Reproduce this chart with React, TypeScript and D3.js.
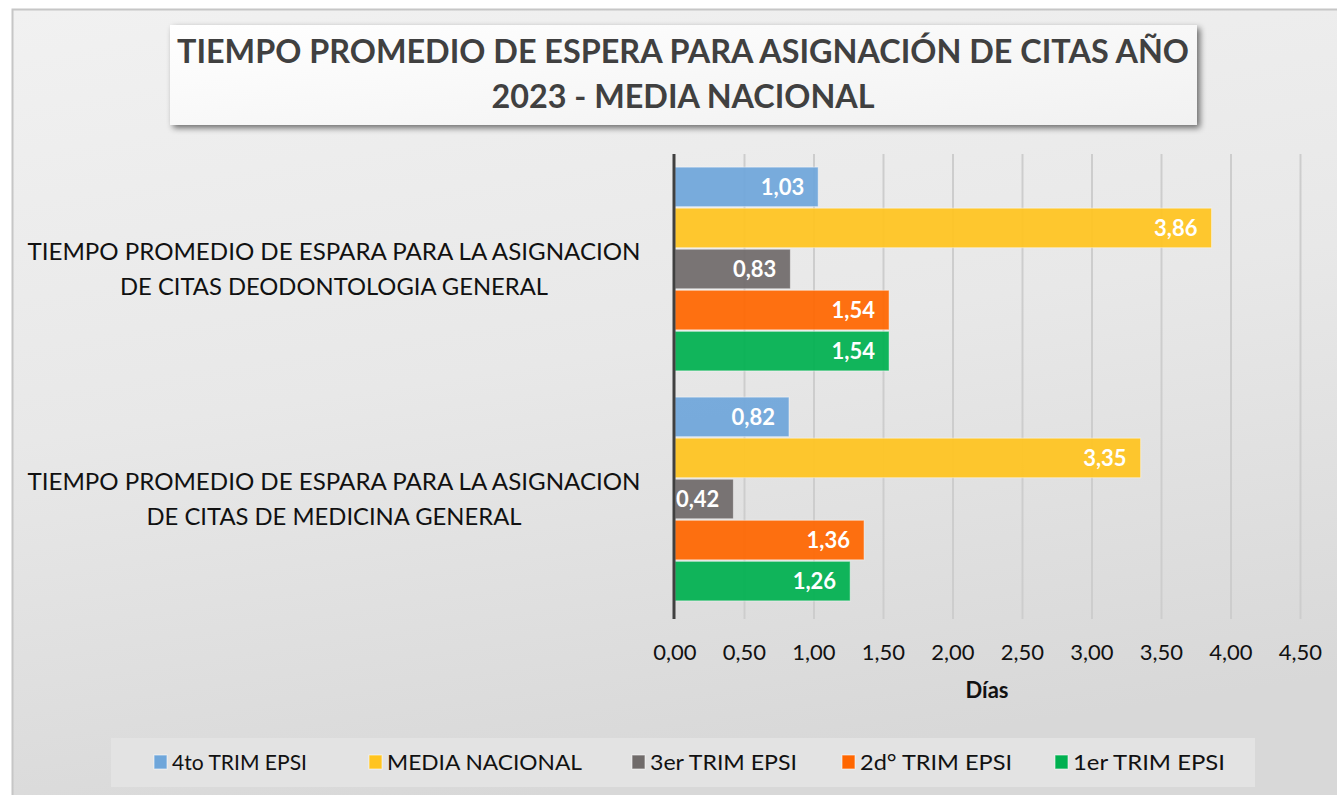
import React from "react";
import * as d3 from "d3";

const categories = ["ODONTOLOGIA", "MEDICINA"];
const categoryLines = [
  ["TIEMPO PROMEDIO DE ESPARA PARA LA ASIGNACION", "DE CITAS DEODONTOLOGIA GENERAL"],
  ["TIEMPO PROMEDIO DE ESPARA PARA LA ASIGNACION", "DE CITAS DE MEDICINA GENERAL"],
];
const seriesNames = ["4to TRIM EPSI", "MEDIA NACIONAL", "3er TRIM EPSI", "2d° TRIM EPSI", "1er TRIM EPSI"];
const seriesColors = ["#6fa6da", "#ffc41f", "#706b6a", "#ff6600", "#00b050"];
const cuartoTrim = [1.03, 0.82];
const mediaNacional = [3.86, 3.35];
const tercerTrim = [0.83, 0.42];
const segundoTrim = [1.54, 1.36];
const primerTrim = [1.54, 1.26];
const seriesValues = [cuartoTrim, mediaNacional, tercerTrim, segundoTrim, primerTrim];
const tickValues = [0, 0.5, 1, 1.5, 2, 2.5, 3, 3.5, 4, 4.5];
const titleLines = ["TIEMPO PROMEDIO DE ESPERA PARA ASIGNACIÓN DE CITAS AÑO", "2023 - MEDIA NACIONAL"];
const axisTitle = "Días";

const fmt = (v: number) => v.toFixed(2).replace(".", ",");

export default function App() {
  const W = 1337, H = 795;
  const plotTop = 154, plotBottom = 614;
  const x = d3.scaleLinear().domain([0, 4.5]).range([675, 1300.5]);
  const y = d3.scaleBand<string>().domain(categories).range([plotTop, plotBottom]).padding(0);
  const inner = d3
    .scaleBand<string>()
    .domain(seriesNames)
    .range([0, y.bandwidth()])
    .paddingInner(0.037)
    .paddingOuter(0.32);
  const font = "Lato, 'Open Sans', sans-serif";
  const legendTextX = [172, 387, 650, 860, 1073];
  const legendTextW = [135, 195, 147, 152, 152];

  return (
    <div style={{ position: "absolute", left: 0, top: 0 }}>
      <svg width={W} height={H} style={{ display: "block" }} fontFamily={font}>
        <defs>
          <linearGradient id="bg" x1="0" y1="0" x2="0.25" y2="1">
            <stop offset="0" stopColor="#f1f1f1" />
            <stop offset="0.5" stopColor="#e8e8e8" />
            <stop offset="1" stopColor="#d8d8d8" />
          </linearGradient>
          <linearGradient id="titleBg" x1="0" y1="0" x2="1" y2="1">
            <stop offset="0" stopColor="#ffffff" />
            <stop offset="1" stopColor="#f1f1f1" />
          </linearGradient>
          <filter id="shadow" x="-5%" y="-20%" width="110%" height="150%">
            <feGaussianBlur in="SourceAlpha" stdDeviation="3" />
            <feOffset dx="3" dy="3" result="b" />
            <feComponentTransfer>
              <feFuncA type="linear" slope="0.55" />
            </feComponentTransfer>
            <feMerge>
              <feMergeNode />
              <feMergeNode in="SourceGraphic" />
            </feMerge>
          </filter>
        </defs>
        <rect x={0} y={0} width={W} height={H} fill="#ffffff" />
        <rect x={12.5} y={9.5} width={W + 20} height={H + 20} fill="url(#bg)" stroke="#c6c6c6" strokeWidth={2} />

        {/* title */}
        <rect x={170} y={25} width={1027} height={100} fill="url(#titleBg)" filter="url(#shadow)" />
        {titleLines.map((t, i) => (
          <text
            key={i}
            x={683}
            y={63 + i * 45}
            textAnchor="middle"
            fontWeight="bold"
            fontSize={33}
            fill="#404040"
            textLength={i === 0 ? 1012 : 383}
            lengthAdjust="spacingAndGlyphs"
          >
            {t}
          </text>
        ))}

        {/* gridlines */}
        {tickValues.map((t) =>
          t === 0 ? null : (
            <line key={t} x1={x(t)} x2={x(t)} y1={plotTop} y2={plotBottom + 5} stroke="#cdcdcd" strokeWidth={2} />
          )
        )}

        {/* bars */}
        {categories.map((c, ci) => (
          <g key={c}>
            {seriesNames.map((s, si) => {
              const v = seriesValues[si][ci];
              const by = (y(c) as number) + (inner(s) as number);
              const bh = inner.bandwidth();
              return (
                <g key={s}>
                  <rect
                    x={x(0)}
                    y={by}
                    width={x(v) - x(0)}
                    height={bh}
                    fill={seriesColors[si]}
                    fillOpacity={0.93}
                    stroke="#ffffff"
                    strokeOpacity={0.45}
                    strokeWidth={1}
                  />
                  <text
                    x={x(v) - 14}
                    y={by + bh / 2}
                    dy="0.36em"
                    textAnchor="end"
                    fontWeight="bold"
                    fontSize={22}
                    fill="#ffffff"
                  >
                    {fmt(v)}
                  </text>
                </g>
              );
            })}
          </g>
        ))}

        {/* axis line */}
        <line x1={674} x2={674} y1={plotTop} y2={plotBottom + 5} stroke="#404040" strokeWidth={3} />

        {/* tick labels */}
        {tickValues.map((t) => (
          <text key={t} x={x(t)} y={660} textAnchor="middle" fontSize={22} fill="#111111">
            {fmt(t)}
          </text>
        ))}
        <text x={987} y={698} textAnchor="middle" fontWeight="bold" fontSize={22} fill="#111111">
          {axisTitle}
        </text>

        {/* category labels */}
        {categories.map((c, ci) => {
          const cy = (y(c) as number) + y.bandwidth() / 2;
          return (
            <g key={c}>
              {categoryLines[ci].map((ln, li) => (
                <text
                  key={li}
                  x={334}
                  y={cy + (li - 0.5) * 35}
                  dy="0.36em"
                  textAnchor="middle"
                  fontSize={24}
                  fill="#111111"
                  textLength={li === 0 ? 613 : ci === 0 ? 428 : 375}
                  lengthAdjust="spacingAndGlyphs"
                >
                  {ln}
                </text>
              ))}
            </g>
          );
        })}

        {/* legend */}
        <rect x={111} y={738} width={1144} height={49} fill="#e3e3e3" />
        {seriesNames.map((s, si) => (
          <g key={s}>
            <rect
              x={legendTextX[si] - 18}
              y={755}
              width={13}
              height={14}
              fill={seriesColors[si]}
              stroke="#ffffff"
              strokeOpacity={0.6}
              strokeWidth={1}
            />
            <text
              x={legendTextX[si]}
              y={762}
              dy="0.36em"
              fontSize={21}
              fill="#111111"
              textLength={legendTextW[si]}
              lengthAdjust="spacingAndGlyphs"
            >
              {s}
            </text>
          </g>
        ))}
      </svg>
    </div>
  );
}
